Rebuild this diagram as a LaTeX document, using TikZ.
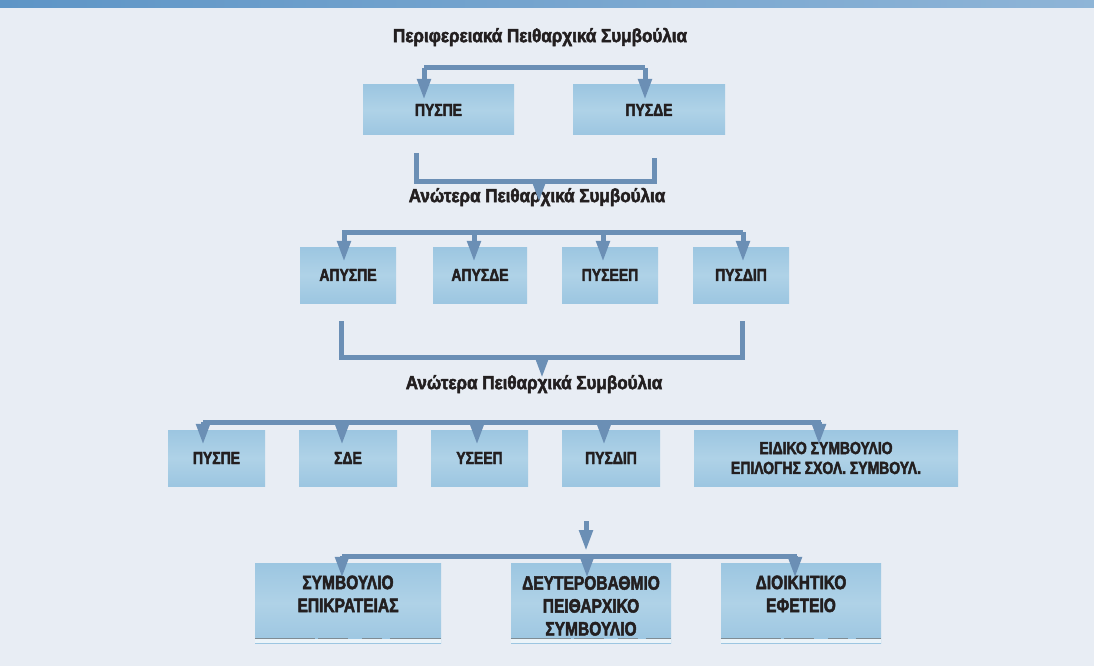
\documentclass[tikz,border=0pt]{standalone}
\usepackage{fontspec}
\setmainfont{Liberation Sans}
\newfontfamily\ttlfont{Liberation Sans}[FakeStretch=0.9, BoldFeatures={FakeBold=2.5}]
\newfontfamily\boxfont{Liberation Sans}[FakeStretch=0.8, BoldFeatures={FakeBold=2.5}]
\usetikzlibrary{arrows.meta}
\definecolor{bgcol}{HTML}{E8EDF4}
\definecolor{boxcol}{HTML}{9CC6E1}
\definecolor{boxlight}{HTML}{AFD2E7}
\definecolor{linecol}{HTML}{6B8FB5}
\definecolor{txtcol}{HTML}{231F20}
\definecolor{bandcol}{HTML}{5E95C6}
\newcommand{\lowered}[2]{\raisebox{#1}[\height][\depth]{\begin{tabular}{@{}c@{}}#2\end{tabular}}}

\begin{document}
\begin{tikzpicture}[
                    x=1bp, y=-1bp,
                    >={Triangle[width=13bp,length=21bp]},
                    every node/.style={text=txtcol, inner sep=0pt},
                    title/.style={font=\ttlfont\bfseries\fontsize{19}{22}\selectfont},
                    box/.style={top color=boxcol, bottom color=boxcol, middle color=boxlight, minimum width=#1, minimum height=56bp, align=center, font=\boxfont\bfseries\fontsize{17.5}{20}\selectfont},
                    tallbox/.style={box=#1, minimum height=80bp, font=\boxfont\bfseries\fontsize{19.5}{23}\selectfont},
                    ln/.style={draw=linecol, line width=5bp},
                    arr/.style={ln, ->, shorten >=-15bp},
                    drop/.style={ln, ->}
            ]
                \fill[bgcol] (0,0) rectangle (1094,666);
                \shade[left color=bandcol, right color=bandcol!70!white, middle color=bandcol!85!white] (0,0) rectangle (1094,8);
                \useasboundingbox (0,0) rectangle (1094,666);

                \node [title] (ttl1) at (540,37) {Περιφερειακά Πειθαρχικά Συμβούλια};
                \node [box=151bp, minimum height=50bp] (pyspe) at (438.5,110) {ΠΥΣΠΕ};
                \node [box=152bp, minimum height=50bp] (pysde) at (649,110) {ΠΥΣΔΕ};

                \node [title] (ttl2) at (537,197) {Ανώτερα Πειθαρχικά Συμβούλια};
                \node [box=96bp] (apyspe) at (348,275) {ΑΠΥΣΠΕ};
                \node [box=94bp] (apysde) at (480,275) {ΑΠΥΣΔΕ};
                \node [box=96bp] (pyseep) at (610,275) {ΠΥΣΕΕΠ};
                \node [box=96bp] (pysdip) at (741,275) {ΠΥΣΔΙΠ};

                \node [title] (ttl3) at (534,384) {Ανώτερα Πειθαρχικά Συμβούλια};
                \node [box=97bp] (pyspeb) at (216.5,458) {ΠΥΣΠΕ};
                \node [box=98bp] (sde) at (348,458) {ΣΔΕ};
                \node [box=97bp] (yseep) at (479.5,458) {ΥΣΕΕΠ};
                \node [box=98bp] (pysdipb) at (611,458) {ΠΥΣΔΙΠ};
                \node [box=264bp] (eidiko) at (826,458) {ΕΙΔΙΚΟ ΣΥΜΒΟΥΛΙΟ\\ΕΠΙΛΟΓΗΣ ΣΧΟΛ. ΣΥΜΒΟΥΛ.};

                \node [tallbox=186bp] (ste) at (348,603) {\lowered{7bp}{ΣΥΜΒΟΥΛΙΟ\\ΕΠΙΚΡΑΤΕΙΑΣ}};
                \node [tallbox=160bp] (dps) at (591,603) {\lowered{-5bp}{ΔΕΥΤΕΡΟΒΑΘΜΙΟ\\ΠΕΙΘΑΡΧΙΚΟ\\ΣΥΜΒΟΥΛΙΟ}};
                \node [tallbox=160bp] (dioik) at (801,603) {\lowered{7bp}{ΔΙΟΙΚΗΤΙΚΟ\\ΕΦΕΤΕΙΟ}};
                \foreach \n in {ste, dps, dioik} {
                    \fill [white!80!boxcol] (\n.south west) rectangle ([yshift=4bp]\n.south east);
                    \draw [black!55, line width=1.2bp, opacity=0.7, dash pattern=on 60bp off 3bp on 30bp off 14bp on 20bp off 8bp]
                        ([yshift=5bp]\n.south west) -- ([yshift=5bp]\n.south east);
                }

                \coordinate (ta) at (424,68);
                \coordinate (tb) at (645,68);
                \draw [ln] (ta) -- (tb);
                \draw [arr] (ta) -- (ta |- pyspe.north);
                \draw [arr] (tb) -- (tb |- pysde.north);

                \coordinate (ua) at (416,153);
                \coordinate (ub) at (654,158);
                \coordinate (uj) at (539,182);
                \coordinate (ut) at (539,202);
                \draw [ln] (ua) |- (uj) -| (ub);
                \draw [drop] (uj) -- (ut);

                \coordinate (va) at (342,232);
                \coordinate (vb) at (743,232);
                \draw [ln] (va) -- (vb);
                \foreach \n/\x in {apyspe/344, apysde/474, pyseep/603, pysdip/743}
                    \draw [arr] (\x,232) -- (\x,232 |- \n.north);

                \coordinate (wa) at (341,321);
                \coordinate (wb) at (742,321);
                \coordinate (wj) at (542,357);
                \coordinate (wt) at (542,378);
                \draw [ln] (wa) |- (wj) -| (wb);
                \draw [drop] (wj) -- (wt);

                \coordinate (xa) at (203,422);
                \coordinate (xb) at (821,422);
                \draw [ln] (xa) -- (xb);
                \foreach \n/\x in {pyspeb/203, sde/342, yseep/477, pysdipb/604, eidiko/819}
                    \draw [arr] (\x,422) -- (\x,422 |- \n.north);

                \coordinate (ys) at (586,521);
                \coordinate (yt) at (586,551);
                \draw [drop] (ys) -- (yt);
                \coordinate (za) at (342,556);
                \coordinate (zb) at (797,556);
                \draw [ln] (za) -- (zb);
                \foreach \n/\x in {ste/342, dps/587, dioik/795}
                    \draw [arr] (\x,556) -- (\x,556 |- \n.north);
            \end{tikzpicture}
\end{document}
